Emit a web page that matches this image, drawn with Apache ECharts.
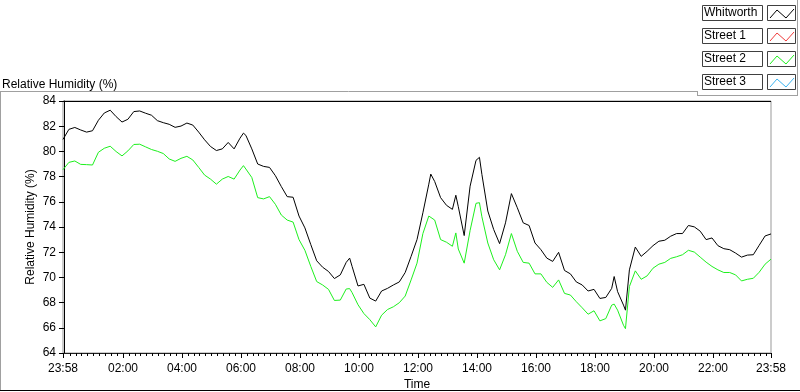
<!DOCTYPE html>
<html>
<head>
<meta charset="utf-8">
<script src="https://cdn.jsdelivr.net/npm/echarts@6/dist/echarts.min.js"></script>
<style>
    html, body { margin: 0; padding: 0; background: #fff; }
    #chart { width: 800px; height: 392px; }
</style>
</head>
<body>
<div id="chart"></div>
<script>
// sample times, minutes since midnight (23:58 of previous day = -2)
const minutes = [
    -2, 10, 22, 34, 46, 58, 70, 82, 94, 106,
    118, 130, 142, 154, 166, 178, 190, 202, 214, 226,
    238, 250, 262, 274, 286, 298, 310, 322, 334, 346,
    358, 365, 370, 382, 394, 406, 418, 430, 442, 454, 466,
    478, 490, 502, 514, 526, 538, 550, 562, 574, 581, 586,
    598, 610, 622, 634, 646, 658, 670, 682, 694, 706,
    718, 730, 742, 746, 754, 766, 778, 790, 797, 802, 814, 826,
    838, 845, 850, 862, 874, 886, 898, 910, 922, 934, 946,
    958, 970, 982, 994, 1006, 1018, 1030, 1042, 1054, 1066,
    1078, 1090, 1102, 1114, 1119, 1126, 1138, 1142, 1150, 1162, 1174, 1186,
    1198, 1210, 1222, 1234, 1246, 1258, 1270, 1282, 1294, 1306,
    1318, 1330, 1342, 1354, 1366, 1378, 1390, 1402, 1414, 1426, 1438
];

const whitworth = [
    80.95, 81.75, 81.9, 81.7, 81.53, 81.64, 82.47, 83.05, 83.27, 82.76,
    82.33, 82.55, 83.16, 83.21, 83.03, 82.87, 82.44, 82.28, 82.15, 81.91,
    82.01, 82.25, 82.09, 81.53, 80.92, 80.39, 80.07, 80.2, 80.71, 80.2,
    81.05, 81.45, 81.27, 80.2, 79.0, 78.81, 78.73, 78.07, 77.21, 76.41, 76.36,
    74.87, 73.93, 72.6, 71.32, 70.81, 70.47, 69.91, 70.2, 71.19, 71.53, 70.87,
    69.32, 69.45, 68.36, 68.12, 68.92, 69.13, 69.4, 69.64, 70.39, 71.67,
    73.0, 75.13, 77.4, 78.2, 77.61, 76.33, 75.72, 75.4, 76.52, 75.61, 73.32, 77.24,
    79.29, 79.53, 78.17, 75.27, 73.8, 72.68, 74.33, 76.65, 75.53, 74.33, 74.12,
    72.73, 72.2, 71.53, 71.27, 71.99, 70.55, 70.28, 69.64, 69.4, 68.92,
    69.05, 68.33, 68.41, 69.13, 70.07, 68.87, 67.8, 67.4, 70.6, 72.41, 71.67, 72.07,
    72.52, 72.87, 72.95, 73.27, 73.48, 73.48, 74.12, 74.01, 73.67, 73.0,
    73.13, 72.52, 72.28, 72.2, 71.93, 71.61, 71.77, 71.8, 72.55, 73.29, 73.45
];

const street1 = [];

const street2 = [
    78.55, 79.13, 79.24, 78.97, 78.95, 78.92, 79.93, 80.25, 80.41, 79.99,
    79.64, 80.04, 80.55, 80.57, 80.36, 80.15, 80.01, 79.83, 79.4, 79.21,
    79.45, 79.61, 79.32, 78.73, 78.12, 77.8, 77.4, 77.8, 78.01, 77.8,
    78.52, 78.87, 78.6, 77.93, 76.33, 76.23, 76.41, 75.8, 74.95, 74.55, 74.39,
    73.0, 72.15, 70.87, 69.67, 69.4, 69.05, 68.17, 68.2, 69.08, 69.11, 68.79,
    67.83, 67.13, 66.65, 66.07, 67.0, 67.45, 67.67, 67.99, 68.52, 69.8,
    71.13, 73.48, 74.87, 74.84, 74.55, 73.0, 72.79, 72.47, 73.53, 72.25, 71.13, 73.72,
    75.88, 75.93, 74.81, 72.73, 71.4, 70.6, 71.8, 73.48, 72.07, 71.19, 71.13,
    70.28, 70.28, 69.61, 69.21, 69.8, 68.73, 68.6, 68.07, 67.59, 67.08,
    67.35, 66.55, 66.73, 67.8, 67.88, 67.4, 66.2, 65.93, 69.27, 70.52, 69.85, 70.12,
    70.73, 71.05, 71.19, 71.51, 71.64, 71.8, 72.15, 72.01, 71.61, 71.21,
    70.87, 70.6, 70.39, 70.39, 70.2, 69.72, 69.85, 69.93, 70.41, 71.05, 71.45
];

const street3 = [];

const tickMinutes = [-2, 120, 240, 360, 480, 600, 720, 840, 960, 1080, 1200, 1320, 1438];
const tickLabels = ['23:58', '02:00', '04:00', '06:00', '08:00', '10:00', '12:00',
    '14:00', '16:00', '18:00', '20:00', '22:00', '23:58'];

const legendNames = ['Whitworth', 'Street 1', 'Street 2', 'Street 3'];
const legendColors = ['#000000', '#f03c3c', '#1ef01e', '#3cb4f0'];

const FONT = 'Liberation Sans, Arial, sans-serif';

// minor ticks every 12 minutes, skipping the labelled ones
const minorTicks = [];
for (let m = 0; m <= 1428; m += 12) {
    if (m % 120 !== 0) minorTicks.push(m);
}

function pairs(vals) {
    return vals.map((v, i) => [minutes[i], v]);
}

// legend drawn by hand, LabVIEW style boxes
const legendGraphics = [];
legendNames.forEach((name, i) => {
    const y = 5 + i * 23;
    legendGraphics.push({
        type: 'rect', shape: { x: 702.5, y: y + 0.5, width: 60, height: 15 },
        style: { fill: '#fff', stroke: '#404040', lineWidth: 1 }
    });
    legendGraphics.push({
        type: 'text', x: 704, y: y + 2,
        style: { text: name, fill: '#000', font: '12px ' + FONT }
    });
    legendGraphics.push({
        type: 'rect', shape: { x: 767.5, y: y + 0.5, width: 28, height: 15 },
        style: { fill: '#fff', stroke: '#404040', lineWidth: 1 }
    });
    legendGraphics.push({
        type: 'polyline',
        shape: { points: [[770, y + 13], [777, y + 5], [786, y + 13], [794, y + 4]] },
        style: { stroke: legendColors[i], lineWidth: 1, fill: null }
    });
});

const chart = echarts.init(document.getElementById('chart'), null, { renderer: 'canvas' });

const option = {
    animation: false,
    backgroundColor: '#fff',
    textStyle: { fontFamily: FONT },
    grid: {
        left: 63, right: 29, top: 101, bottom: 39,
        outerBoundsMode: 'none',
        show: true, borderColor: '#999', borderWidth: 1, backgroundColor: '#fff'
    },
    xAxis: [
        {
            type: 'value',
            min: -2, max: 1438,
            name: 'Time',
            nameLocation: 'middle',
            nameGap: 26,
            nameMoveOverlap: false,
            nameTextStyle: { color: '#000', fontSize: 12, fontFamily: FONT },
            axisLine: { show: true, lineStyle: { color: '#202020', width: 1 } },
            axisTick: { show: true, customValues: tickMinutes, length: 5, lineStyle: { color: '#000', width: 1 } },
            axisLabel: {
                show: true, customValues: tickMinutes, margin: 10,
                color: '#000', fontSize: 12, fontFamily: FONT,
                formatter: (v) => tickLabels[tickMinutes.indexOf(v)] || ''
            },
            splitLine: { show: false }
        },
        {
            type: 'value',
            min: -2, max: 1438,
            position: 'bottom',
            axisLine: { show: false },
            axisTick: { show: true, customValues: minorTicks, length: 3, lineStyle: { color: '#000', width: 1 } },
            axisLabel: { show: true, customValues: minorTicks, formatter: () => '' },
            splitLine: { show: false }
        }
    ],
    yAxis: {
        type: 'value',
        min: 64, max: 84, interval: 2,
        name: 'Relative Humidity (%)',
        nameLocation: 'middle',
        nameGap: 26,
        nameMoveOverlap: false,
        nameRotate: 90,
        nameTextStyle: { color: '#000', fontSize: 12, fontFamily: FONT },
        axisLine: { show: true, lineStyle: { color: '#000', width: 1 } },
        axisTick: { show: true, length: 5, lineStyle: { color: '#000' } },
        axisLabel: { color: '#000', fontSize: 12, fontFamily: FONT, margin: 7 },
        splitLine: { show: false }
    },
    graphic: [
        // chart panel caption and frame
        { type: 'text', x: 2, y: 79, style: { text: 'Relative Humidity (%)', fill: '#000', font: '12px ' + FONT } },
        { type: 'line', shape: { x1: 0, y1: 91.5, x2: 697, y2: 91.5 }, style: { stroke: '#a0a0a0', lineWidth: 1 } },
        { type: 'line', shape: { x1: 0.5, y1: 91, x2: 0.5, y2: 391 }, style: { stroke: '#a0a0a0', lineWidth: 1 } },
        { type: 'line', shape: { x1: 0, y1: 390.5, x2: 800, y2: 390.5 }, style: { stroke: '#000', lineWidth: 1 } },
        // plot frame top edge
        { type: 'line', shape: { x1: 63, y1: 101.5, x2: 771, y2: 101.5 }, style: { stroke: '#000', lineWidth: 1 } },
        // legend panel frame
        { type: 'line', shape: { x1: 697, y1: 95.5, x2: 797, y2: 95.5 }, style: { stroke: '#a0a0a0', lineWidth: 1 } },
        { type: 'line', shape: { x1: 797.5, y1: 0, x2: 797.5, y2: 96 }, style: { stroke: '#a0a0a0', lineWidth: 1 } },
        { type: 'line', shape: { x1: 697.5, y1: 91, x2: 697.5, y2: 96 }, style: { stroke: '#a0a0a0', lineWidth: 1 } }
    ].concat(legendGraphics),
    series: [
        {
            name: 'Whitworth', type: 'line', xAxisIndex: 0, data: pairs(whitworth),
            showSymbol: false, lineStyle: { color: legendColors[0], width: 1 }, z: 3
        },
        {
            name: 'Street 1', type: 'line', xAxisIndex: 0, data: pairs(street1),
            showSymbol: false, lineStyle: { color: legendColors[1], width: 1 }
        },
        {
            name: 'Street 2', type: 'line', xAxisIndex: 0, data: pairs(street2),
            showSymbol: false, lineStyle: { color: legendColors[2], width: 1 }, z: 2
        },
        {
            name: 'Street 3', type: 'line', xAxisIndex: 0, data: pairs(street3),
            showSymbol: false, lineStyle: { color: legendColors[3], width: 1 }
        }
    ]
};

chart.setOption(option);
</script>
</body>
</html>
